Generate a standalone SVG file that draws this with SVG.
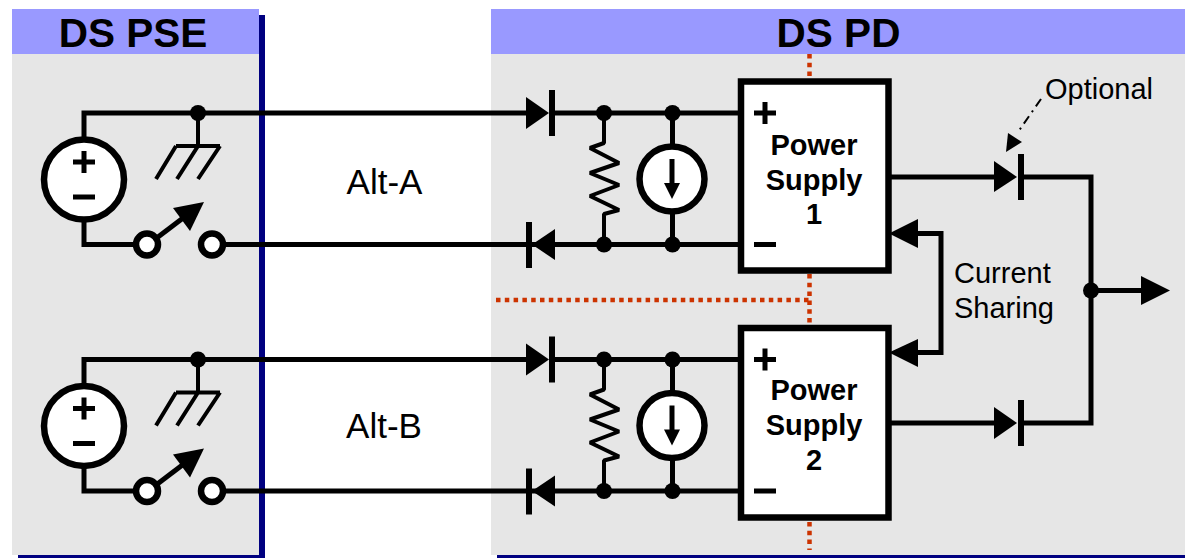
<svg xmlns="http://www.w3.org/2000/svg" width="1185" height="558" viewBox="0 0 1185 558">
<style>
text{font-family:"Liberation Sans",Arial,sans-serif;fill:#000}
.ps{font-weight:bold;font-size:29px;text-anchor:middle}
.l{font-size:29px}
.alt{font-size:35px;text-anchor:middle}
.h{font-weight:bold;font-size:40.500px;text-anchor:middle}
.w{fill:none;stroke:#000;stroke-width:5}
.t{fill:none;stroke:#000;stroke-width:4}
.c{fill:#fff;stroke:#000;stroke-width:6.500}
.d{fill:#000;stroke:none}
.r{fill:none;stroke:#cc3300;stroke-width:4.500;stroke-dasharray:4.500 4.300}
.box{fill:#fff;stroke:#000;stroke-width:6.500}
</style>
<defs>
<g id="src"><circle class="c" cx="84" cy="179.500" r="40"/><path class="w" d="M73 162H95M84 151V173M73 197H95"/></g>
<g id="gnd"><path class="t" d="M198 113V146M176 146H220M176 146L156 179M198 146L177 179M220 146L198 179"/></g>
<g id="sw"><path class="w" d="M158 237L187 215"/><path class="d" d="M204 202L173 208L190 231Z"/><circle class="c" cx="147" cy="244.500" r="11"/><circle class="c" cx="212" cy="244.500" r="11"/></g>
<g id="res"><path class="t" stroke-linejoin="bevel" d="M604 113V143L590 148L619 163L590 173L619 185L590 196L619 210L604 214V244.500"/></g>
<g id="cs"><path class="w" d="M672.500 113V150M672.500 208V244.500"/><circle class="c" cx="672" cy="179" r="32.500"/><path class="w" d="M672 159V186"/><path class="d" d="M664 183H680L672 199Z"/></g>
<g id="dots"><circle class="d" cx="604" cy="113" r="8"/><circle class="d" cx="672.500" cy="113" r="8"/><circle class="d" cx="604" cy="244.500" r="8"/><circle class="d" cx="672.500" cy="244.500" r="8"/></g>
<g id="dF"><path class="d" d="M526 97V129L549 113Z"/><rect class="d" x="549" y="90" width="6" height="46"/></g>
<g id="dR"><path class="d" d="M555 229V260L532 244.500Z"/><rect class="d" x="526" y="222" width="6" height="46"/></g>
</defs>

<g id="pse-panel">
<rect x="18" y="15" width="247" height="543" fill="#000080"/>
<rect x="12" y="54" width="247" height="501" fill="#e6e6e6"/>
<rect x="12" y="9" width="247" height="45" fill="#9999ff"/>
<text class="h" x="133" y="47">DS PSE</text>
</g>
<g id="pd-panel">
<rect x="497" y="555" width="688" height="3" fill="#000080"/>
<rect x="491" y="54" width="694" height="501" fill="#e6e6e6"/>
<rect x="491" y="9" width="694" height="45" fill="#9999ff"/>
<text class="h" x="838.500" y="47">DS PD</text>
</g>

<g id="dividers">
<path class="r" d="M496 300H811"/>
<path class="r" d="M809.500 54V80M809.500 274V326M809.500 522V550"/>
</g>

<g id="connectors">
<path class="w" d="M84 140V113H530M84 219V244.500H140M220 244.500H530"/>
<path class="w" d="M84 386V359.500H530M84 466V491H140M220 491H530"/>
<path class="w" d="M552 113H740M532 244.500H740"/>
<path class="w" d="M552 359.500H740M532 491H740"/>
<path class="w" d="M888 177H1000M1020 177H1091V423H1020M1000 423H888"/>
<path class="w" d="M1091 290.500H1145"/>
<path class="d" d="M1141 276V305L1170 290.500Z"/>
<path class="w" d="M915 233.500H941V352.500H915"/>
<path class="d" d="M889 233.500L918 219V248Z"/>
<path class="d" d="M889 352.500L918 339V367Z"/>
<path d="M1041 99L1018 132" fill="none" stroke="#000" stroke-width="2" stroke-dasharray="9 5 2 5"/>
<path class="d" d="M1006 152L1008 133L1022 142Z"/>
<circle class="d" cx="198" cy="113" r="8"/>
<circle class="d" cx="198" cy="359.500" r="8"/>
<circle class="d" cx="1091" cy="290.500" r="8"/>
</g>

<g id="source-a"><use href="#src"/></g>
<g id="ground-a"><use href="#gnd"/></g>
<g id="switch-a"><use href="#sw"/></g>
<g id="source-b"><use href="#src" y="246.500"/></g>
<g id="ground-b"><use href="#gnd" y="246.500"/></g>
<g id="switch-b"><use href="#sw" y="246.500"/></g>

<g id="diodes-a"><use href="#dF"/><use href="#dR"/></g>
<g id="load-a"><use href="#res"/><use href="#cs"/><use href="#dots"/></g>
<g id="diodes-b"><use href="#dF" y="246.500"/><use href="#dR" y="246.500"/></g>
<g id="load-b"><use href="#res" y="246.500"/><use href="#cs" y="246.500"/><use href="#dots" y="246.500"/></g>

<g id="ps1">
<rect class="box" x="741" y="81.500" width="147.500" height="189"/>
<path class="w" d="M754 113H776M765 102V124M754 244.500H776"/>
<text class="ps" x="814" y="155">Power</text>
<text class="ps" x="814" y="190">Supply</text>
<text class="ps" x="814" y="224">1</text>
</g>
<g id="ps2">
<rect class="box" x="741" y="328" width="147.500" height="189.500"/>
<path class="w" d="M754 359.500H776M765 348.500V370.500M754 491H776"/>
<text class="ps" x="814" y="400">Power</text>
<text class="ps" x="814" y="435">Supply</text>
<text class="ps" x="814" y="470">2</text>
</g>

<g id="out-diode-a"><path class="d" d="M994 161V192L1017 177Z"/><rect class="d" x="1018" y="154" width="6" height="46"/></g>
<g id="out-diode-b"><path class="d" d="M994 407V439L1017 423Z"/><rect class="d" x="1018" y="400" width="6" height="46"/></g>

<g id="labels">
<text class="alt" x="384.500" y="194">Alt-A</text>
<text class="alt" x="384" y="438">Alt-B</text>
<text class="l" x="1045" y="99">Optional</text>
<text class="l" x="954" y="283">Current</text>
<text class="l" x="954" y="318">Sharing</text>
</g>
</svg>
